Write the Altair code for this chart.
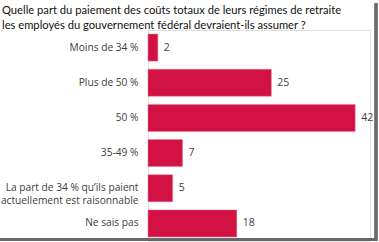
import altair as alt
import pandas as pd

categories = [
    "Moins de 34 %",
    "Plus de 50 %",
    "50 %",
    "35-49 %",
    "La part de 34 % qu’ils paient\nactuellement est raisonnable",
    "Ne sais pas",
]
values = [2, 25, 42, 7, 5, 18]
title_lines = [
    "Quelle part du paiement des coûts totaux de leurs régimes de retraite",
    "les employés du gouvernement fédéral devraient-ils assumer ?",
]

df = pd.DataFrame({"cat": categories, "val": values})

FONT = "Open Sans"
TITLE_FONT = "Lato"
BAR = "#D11242"

base = alt.Chart(df)

y_enc = alt.Y(
    "cat:N",
    sort=categories,
    title=None,
    scale=alt.Scale(paddingInner=0.23, paddingOuter=0.115),
    axis=alt.Axis(
        domain=False,
        ticks=False,
        grid=False,
        labelPadding=10,
        labelFont=FONT,
        labelFontSize=10.2,
        labelColor="#404040",
        labelLimit=200,
        labelLineHeight=12.5,
        labelExpr="split(datum.label, '\\n')",
    ),
)

bars = base.mark_bar(color=BAR, stroke="#E87A95", strokeWidth=0.5).encode(
    x=alt.X("val:Q", scale=alt.Scale(domain=[0, 45]), axis=None),
    y=y_enc,
)

labels = base.mark_text(
    align="left", dx=6, font=FONT, fontSize=10.5, color="#404040"
).encode(
    x=alt.X("val:Q", axis=None),
    y=alt.Y("cat:N", sort=categories),
    text=alt.Text("val:Q"),
)

frame_right = alt.Chart(df).mark_rule(color="#6a6a6a", strokeWidth=2.5).encode(
    x=alt.value(228), y=alt.value(-27), y2=alt.value(211)
)
frame_bottom = alt.Chart(df).mark_rule(color="#6a6a6a", strokeWidth=2.5).encode(
    x=alt.value(-148), x2=alt.value(229), y=alt.value(209.5)
)

chart = (
    alt.layer(bars, labels, frame_right, frame_bottom)
    .properties(
        width=222,
        height=211,
        autosize=alt.AutoSizeParams(type="none"),
        padding={"left": 148, "top": 30, "right": 9, "bottom": 1},
        title=alt.TitleParams(
            text=title_lines,
            anchor="start",
            frame="group",
            dx=-146,
            dy=29,
            offset=0,
            font=TITLE_FONT,
            fontSize=11.2,
            fontWeight="normal",
            color="#111111",
            lineHeight=15,
        ),
    )
    .configure_view(strokeWidth=0, strokeOpacity=0)
    .configure_axis(domain=False, grid=False, ticks=False)
    .configure(background="white")
)

chart.save("out.html", embed_options={"renderer": "svg", "actions": False})
